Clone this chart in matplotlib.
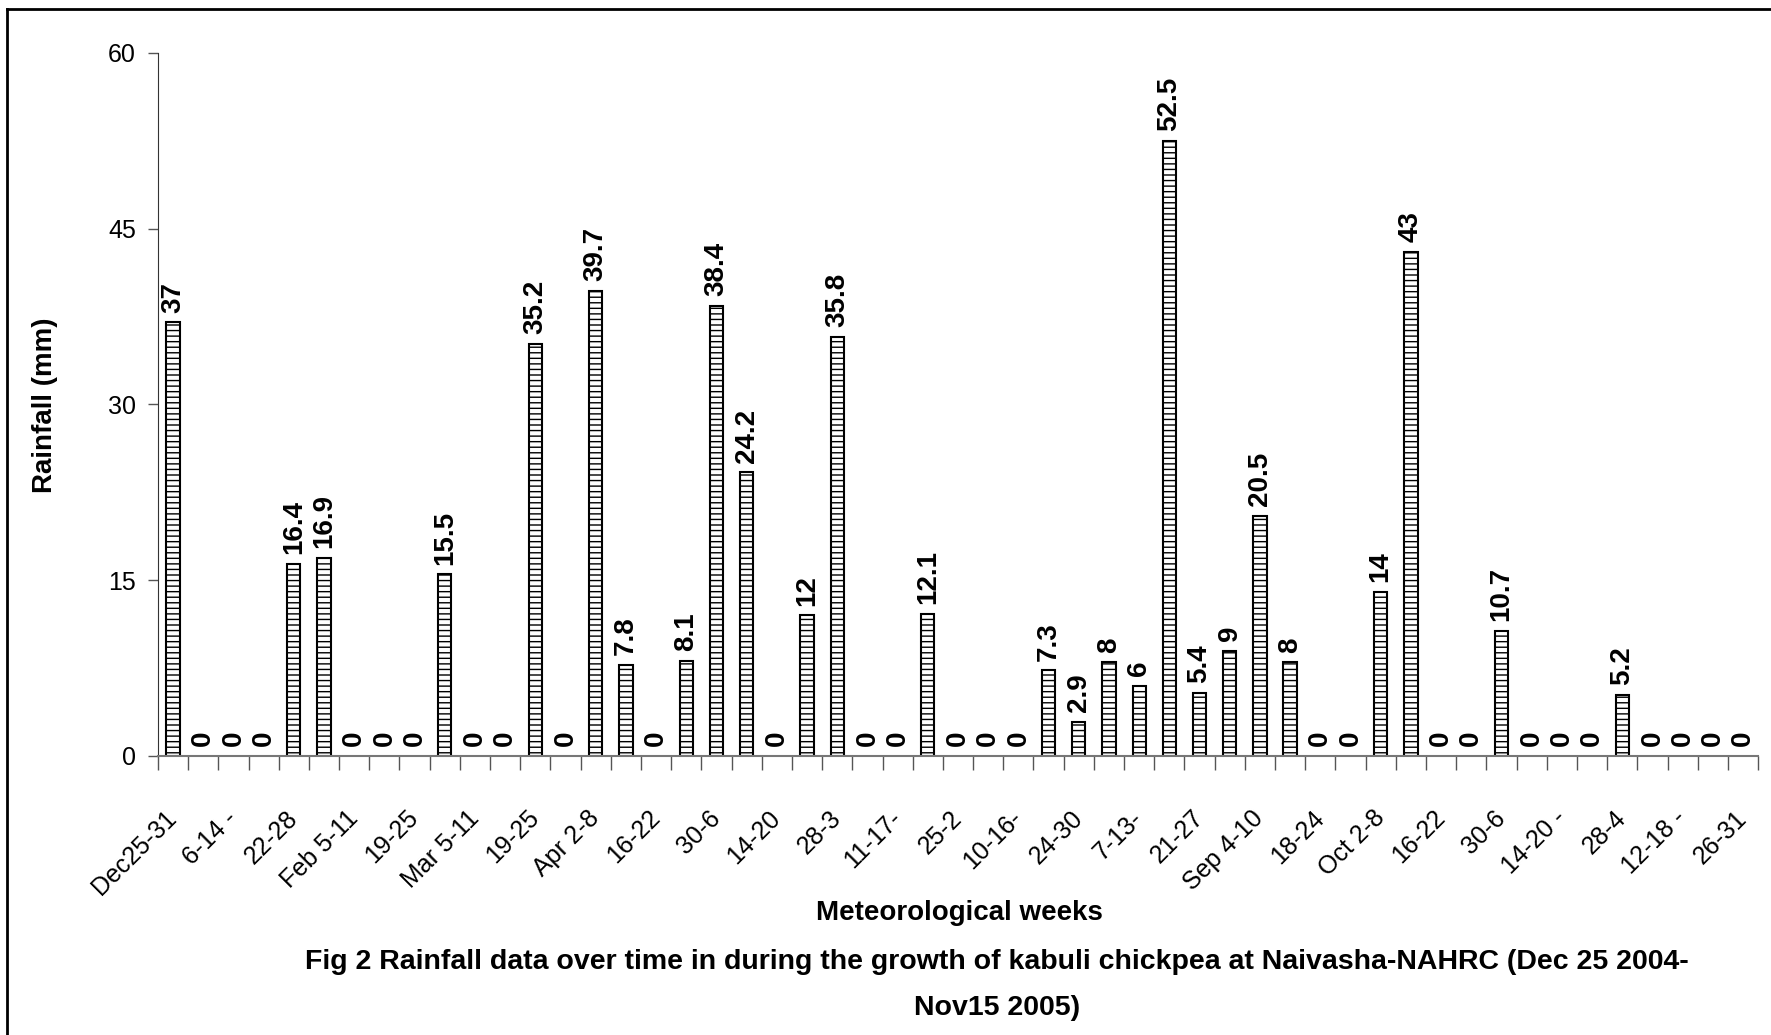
import numpy as np
import matplotlib
matplotlib.use("Agg")
import matplotlib.pyplot as plt
from matplotlib.lines import Line2D

# weekly rainfall (mm), Dec 25 2004 - Nov 15 2005
rain = [37, 0, 0, 0, 16.4, 16.9, 0, 0, 0, 15.5, 0, 0, 35.2, 0, 39.7, 7.8, 0,
        8.1, 38.4, 24.2, 0, 12, 35.8, 0, 0, 12.1, 0, 0, 0, 7.3, 2.9, 8, 6,
        52.5, 5.4, 9, 20.5, 8, 0, 0, 14, 43, 0, 0, 10.7, 0, 0, 0, 5.2, 0, 0,
        0, 0]

# only every other week is labelled on the axis
week_labels = ["Dec25-31", "6-14 -", "22-28", "Feb 5-11", "19-25", "Mar 5-11",
               "19-25", "Apr 2-8", "16-22", "30-6", "14-20", "28-3", "11-17-",
               "25-2", "10-16-", "24-30", "7-13-", "21-27", "Sep 4-10", "18-24",
               "Oct 2-8", "16-22", "30-6", "14-20 -", "28-4", "12-18 -", "26-31"]

yticks = [0, 15, 30, 45, 60]

plt.rcParams["font.family"] = ["Liberation Sans", "DejaVu Sans"]
plt.rcParams["hatch.linewidth"] = 1.0

fig = plt.figure(figsize=(17.71, 10.35), dpi=100)
ax = fig.add_axes([0.0892, 0.2696, 0.9035, 0.6792])

x = np.arange(len(rain))
edges = ["black" if v > 0 else "none" for v in rain]
ax.bar(x, rain, width=0.44, color="white", edgecolor=edges, linewidth=1.5, hatch="---")

for xi, v in zip(x, rain):
    ax.annotate(f"{v:g}", (xi, v), xytext=(0, 7), textcoords="offset points",
                rotation=90, ha="center", va="bottom", fontsize=20, fontweight="bold")

ax.set_xlim(-0.5, len(rain) - 0.5)
ax.set_ylim(0, 60)
ax.set_yticks(yticks)
ax.set_yticklabels([str(t) for t in yticks], fontsize=18)
ax.tick_params(axis="y", length=7, width=1, color="#555555", pad=9)

ax.set_xticks(x[::2])
ax.set_xticklabels(week_labels, rotation=45, ha="right", va="center",
                   rotation_mode="anchor", fontsize=18)
ax.set_xticks(np.arange(-0.5, len(rain), 1), minor=True)
ax.tick_params(axis="x", which="major", length=0, pad=42)
ax.tick_params(axis="x", which="minor", length=10, width=1, color="#555555")

for s in ["top", "right"]:
    ax.spines[s].set_visible(False)
ax.spines["left"].set_color("#333333")
ax.spines["bottom"].set_color("#777777")
ax.spines["bottom"].set_linewidth(1.5)

fig.text(45 / 1771, 1 - 405 / 1035, "Rainfall (mm)", rotation=90, ha="center",
         va="center", fontsize=20, fontweight="bold")
fig.text(959 / 1771, 1 - 913 / 1035, "Meteorological weeks", ha="center", va="center",
         fontsize=20, fontweight="bold")
fig.text(997 / 1771, 1 - 962 / 1035,
         "Fig 2 Rainfall data over time in during the growth of kabuli chickpea at Naivasha-NAHRC (Dec 25 2004-",
         ha="center", va="center", fontsize=20.5, fontweight="bold")
fig.text(997 / 1771, 1 - 1008 / 1035, "Nov15 2005)", ha="center", va="center",
         fontsize=20.5, fontweight="bold")

# outer frame (left and top edges visible)
fig.add_artist(Line2D([7 / 1771, 7 / 1771], [0, 1 - 9 / 1035], transform=fig.transFigure,
                      color="black", lw=2))
fig.add_artist(Line2D([7 / 1771, 1], [1 - 9 / 1035, 1 - 9 / 1035], transform=fig.transFigure,
                      color="black", lw=2))

fig.savefig("out.png", dpi=100)
